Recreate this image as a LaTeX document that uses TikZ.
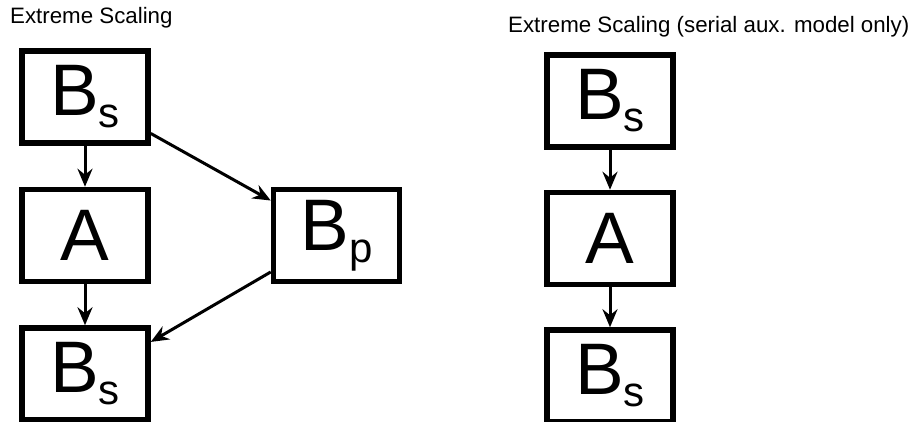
\documentclass[tikz,border=0pt]{standalone}
\usepackage{fontspec}
\setmainfont{Liberation Sans}
\usetikzlibrary{positioning,arrows.meta}

\tikzset{
  blockbox/.style={draw, line width=5.5pt, minimum width=126pt, minimum height=92pt, inner sep=0pt,
    font=\fontsize{73}{73}\selectfont},
  flow/.style={-{Stealth[length=18pt,width=15pt,inset=6pt]}, line width=3pt},
  heading/.style={anchor=west, inner sep=0pt, font=\fontsize{22.3}{26}\selectfont}
}
\newcommand{\lowsub}[1]{\raisebox{-12pt}{\fontsize{42}{42}\selectfont #1}}

\begin{document}
\begin{tikzpicture}[x=1pt,y=-1pt]
        \useasboundingbox (0,0) rectangle (912,422);
        % Left: extreme scaling
        \node[heading] (titleL) at (10,18) {Extreme Scaling};
        \node[blockbox] (bsTopL) at (85,97) {B\lowsub{s}};
        \node[blockbox, below=41pt of bsTopL] (aL) {A};
        \node[blockbox, below=41pt of aL] (bsBotL) {B\lowsub{s}};
        \node[blockbox, right=120pt of aL] (bp) {B\lowsub{p}};
        \draw[flow] (bsTopL) -- (aL);
        \draw[flow] (aL) -- (bsBotL);
        \draw[flow] (bsTopL.-29) -- (bp.152);
        \draw[flow] (bp.209) -- (bsBotL.26);
        % Right: serial aux. model only
        \node[heading] (titleR) at (508,27) {Extreme Scaling (serial aux. model only)};
        \node[blockbox] (bsTopR) at (610,101) {B\lowsub{s}};
        \node[blockbox, below=40pt of bsTopR] (aR) {A};
        \node[blockbox, below=40pt of aR] (bsBotR) {B\lowsub{s}};
        \draw[flow] (bsTopR) -- (aR);
        \draw[flow] (aR) -- (bsBotR);
\end{tikzpicture}
\end{document}
